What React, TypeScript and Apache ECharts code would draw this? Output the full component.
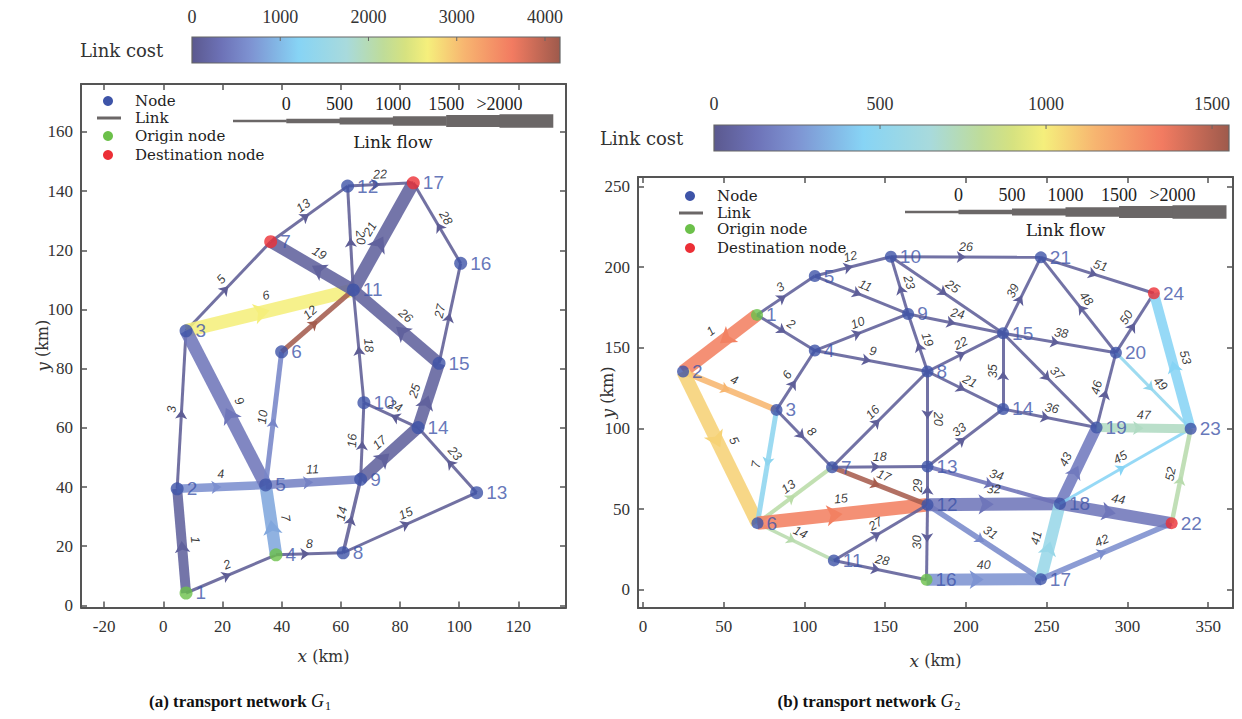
import React, { useEffect, useRef } from 'react';
import * as echarts from 'echarts';

// ---------------- Network G1 ----------------
const g1NodeIds = [1, 2, 3, 4, 5, 6, 7, 8, 9, 10, 11, 12, 13, 14, 15, 16, 17];
const g1NodeX = [7.7, 4.7, 7.7, 38.1, 34.6, 40.0, 36.3, 60.8, 66.7, 67.8, 64.2, 62.3, 105.9, 86.1, 93.2, 100.5, 84.5];
const g1NodeY = [4.2, 39.4, 92.8, 17.1, 40.7, 85.7, 122.9, 17.8, 42.6, 68.5, 106.6, 141.7, 38.1, 60.1, 81.8, 115.6, 142.8];
const g1Origins = [1, 4];
const g1Destinations = [7, 17];
const g1LinkIds = [1, 2, 3, 4, 5, 6, 7, 8, 9, 10, 11, 12, 13, 14, 15, 16, 17, 18, 19, 20, 21, 22, 23, 24, 25, 26, 27, 28];
const g1LinkFrom = [1, 1, 2, 2, 3, 3, 4, 4, 5, 5, 5, 6, 7, 8, 8, 9, 9, 10, 11, 11, 11, 12, 13, 14, 14, 15, 15, 16];
const g1LinkTo = [2, 4, 3, 5, 7, 11, 5, 8, 3, 6, 9, 11, 12, 9, 13, 10, 14, 11, 7, 12, 17, 17, 14, 10, 15, 11, 16, 17];
const g1LinkFlow = [1500, 100, 100, 1200, 100, 2200, 2000, 100, 2100, 500, 1200, 500, 100, 200, 100, 100, 1900, 100, 1900, 100, 2100, 100, 100, 100, 1900, 1900, 100, 100];
const g1LinkCost = [120, 50, 50, 625, 50, 2670, 830, 50, 375, 540, 500, 4130, 50, 50, 50, 50, 120, 50, 120, 50, 120, 50, 50, 50, 120, 120, 50, 50];
const g1CostMax = 4170;
const g1CostTicks = [0, 1000, 2000, 3000, 4000];

// ---------------- Network G2 ----------------
const g2NodeIds = [1, 2, 3, 4, 5, 6, 7, 8, 9, 10, 11, 12, 13, 14, 15, 16, 17, 18, 19, 20, 21, 22, 23, 24];
const g2NodeX = [70.6, 24.8, 82.7, 106.4, 106.4, 70.9, 117.1, 176.2, 164.2, 153.5, 118.2, 176.2, 176.2, 223.0, 223.0, 175.6, 246.4, 258.2, 280.9, 292.9, 246.4, 327.4, 339.2, 316.4];
const g2NodeY = [170.4, 135.3, 111.5, 148.3, 194.5, 41.3, 76.0, 135.3, 171.0, 206.5, 18.2, 52.7, 76.4, 112.1, 159.0, 6.2, 6.6, 53.3, 100.6, 147.0, 206.1, 41.3, 99.8, 183.8];
const g2Origins = [1, 16];
const g2Destinations = [24, 22];
const g2LinkIds = [1, 2, 3, 4, 5, 6, 7, 8, 9, 10, 11, 12, 13, 14, 15, 16, 17, 18, 19, 20, 21, 22, 23, 24, 25, 26, 27, 28, 29, 30, 31, 32, 33, 34, 35, 36, 37, 38, 39, 40, 41, 42, 43, 44, 45, 46, 47, 48, 49, 50, 51, 52, 53];
const g2LinkFrom = [1, 1, 1, 2, 2, 3, 3, 3, 4, 4, 5, 5, 6, 6, 6, 7, 7, 7, 8, 8, 8, 8, 9, 9, 10, 10, 11, 11, 12, 12, 12, 12, 13, 13, 14, 14, 15, 15, 15, 16, 17, 17, 18, 18, 18, 19, 19, 20, 20, 20, 21, 22, 23];
const g2LinkTo = [2, 4, 5, 3, 6, 4, 6, 7, 8, 9, 9, 10, 7, 11, 12, 8, 12, 13, 9, 13, 14, 15, 10, 15, 15, 21, 12, 16, 13, 16, 17, 18, 14, 18, 15, 19, 19, 20, 21, 17, 18, 22, 19, 22, 23, 20, 23, 21, 23, 24, 24, 23, 24];
const g2LinkFlow = [2100, 100, 100, 700, 2200, 100, 500, 100, 100, 100, 100, 100, 300, 200, 2200, 100, 500, 100, 100, 100, 100, 100, 100, 100, 100, 100, 100, 100, 100, 100, 600, 2100, 100, 300, 100, 100, 100, 100, 100, 1900, 1900, 600, 1700, 1900, 100, 100, 1300, 100, 100, 100, 100, 400, 1500];
const g2LinkCost = [1330, 30, 30, 1145, 1070, 30, 495, 30, 30, 30, 30, 30, 775, 760, 1330, 30, 1530, 30, 30, 30, 30, 30, 30, 30, 30, 30, 30, 30, 30, 30, 215, 140, 30, 125, 30, 30, 30, 30, 30, 250, 555, 230, 155, 140, 450, 30, 710, 30, 510, 30, 30, 760, 450];
const g2CostMax = 1551;
const g2CostTicks = [0, 500, 1000, 1500];

// ---------------- Link flow legend ----------------
const flowTicks = [0, 500, 1000, 1500, 2000];
const flowTickLabels = ['0', '500', '1000', '1500', '>2000'];

// ---------------- styling helpers ----------------
const SERIF = "'Liberation Serif', serif";
const WSERIF = "'DejaVu Serif', serif";
const SANS = "'Liberation Sans', Arial, sans-serif";
const NODE_COLOR = '#3e54a8';
const ORIGIN_COLOR = '#6cc04a';
const DEST_COLOR = '#ec2f36';
const AXIS_COLOR = '#555555';

const cmapStops: [number, string][] = [
  [0, '#5b598f'], [0.08, '#6d72b7'], [0.16, '#7e93d2'], [0.29, '#87d4f5'], [0.42, '#a8dadc'],
  [0.52, '#bfdc99'], [0.58, '#d6e280'], [0.64, '#f5ef7c'], [0.74, '#f7b570'], [0.87, '#f27b61'], [1, '#9e5a4c'],
];

function hexToRgb(h: string) {
  const n = parseInt(h.slice(1), 16);
  return [(n >> 16) & 255, (n >> 8) & 255, n & 255];
}
function costColor(cost: number, max: number) {
  const t = Math.max(0, Math.min(1, cost / max));
  for (let i = 1; i < cmapStops.length; i++) {
    if (t <= cmapStops[i][0]) {
      const [t0, c0] = cmapStops[i - 1];
      const [t1, c1] = cmapStops[i];
      const f = (t - t0) / (t1 - t0);
      const a = hexToRgb(c0), b = hexToRgb(c1);
      const c = a.map((v, k) => Math.round(v + (b[k] - v) * f));
      return `rgb(${c[0]},${c[1]},${c[2]})`;
    }
  }
  return cmapStops[cmapStops.length - 1][1];
}
function flowWidth(f: number) {
  return 2.5 + Math.min(f, 2200) / 200;
}

function buildLinks(ids: number[], from: number[], to: number[], flow: number[], cost: number[], nx: number[], ny: number[], costMax: number) {
  const full: any[] = [];
  const arrows: any[] = [];
  ids.forEach((id, i) => {
    const a = [nx[from[i] - 1], ny[from[i] - 1]];
    const b = [nx[to[i] - 1], ny[to[i] - 1]];
    const mid = [(a[0] + b[0]) / 2, (a[1] + b[1]) / 2];
    const color = costColor(cost[i], costMax);
    const w = flowWidth(flow[i]);
    full.push({ name: String(id), coords: [a, b], lineStyle: { color, width: w, opacity: 0.88 }, label: { distance: w / 2 + 2 } });
    const s = Math.max(7, w * 0.9);
    arrows.push({ coords: [a, mid], lineStyle: { color, width: 0, opacity: 1 }, symbol: ['none', 'arrow'], symbolSize: [s, s * 1.3] });
  });
  return { full, arrows };
}

function buildNodes(ids: number[], nx: number[], ny: number[], origins: number[], dests: number[]) {
  return ids.map((id, i) => ({
    name: String(id),
    value: [nx[i], ny[i]],
    itemStyle: { color: origins.includes(id) ? ORIGIN_COLOR : dests.includes(id) ? DEST_COLOR : NODE_COLOR },
  }));
}

const axisNameStyle = {
  fontFamily: WSERIF, fontSize: 16, color: '#333',
  rich: { i: { fontFamily: WSERIF, fontSize: 17, fontStyle: 'italic', color: '#333' } },
};

function xAxes(gridIndex: number, min: number, max: number, step: number, nameGap: number) {
  const common = {
    type: 'value', gridIndex, min, max, minInterval: step, maxInterval: step, splitNumber: 10,
    axisLine: { show: true, onZero: false, lineStyle: { color: AXIS_COLOR, width: 2 } },
    axisTick: { show: true, inside: true, length: 6, lineStyle: { color: AXIS_COLOR, width: 1.5 } },
    splitLine: { show: false },
  };
  return [
    { ...common, position: 'bottom',
      axisLabel: { show: true, showMinLabel: false, showMaxLabel: false, fontFamily: SERIF, fontSize: 17, color: '#333', margin: 10 },
      name: '{i|x} (km)', nameLocation: 'middle', nameGap, nameTextStyle: axisNameStyle },
    { ...common, position: 'top', axisLabel: { show: false } },
  ];
}
function yAxes(gridIndex: number, min: number, max: number, step: number, nameGap: number) {
  const common = {
    type: 'value', gridIndex, min, max, minInterval: step, maxInterval: step, splitNumber: 10,
    axisLine: { show: true, onZero: false, lineStyle: { color: AXIS_COLOR, width: 2 } },
    axisTick: { show: true, inside: true, length: 6, lineStyle: { color: AXIS_COLOR, width: 1.5 } },
    splitLine: { show: false },
  };
  return [
    { ...common, position: 'left',
      axisLabel: { show: true, showMinLabel: false, showMaxLabel: false, fontFamily: SERIF, fontSize: 17, color: '#333', margin: 8 },
      name: '{i|y} (km)', nameLocation: 'middle', nameGap, nameRotate: 90, nameMoveOverlap: false, nameTextStyle: axisNameStyle },
    { ...common, position: 'right', axisLabel: { show: false } },
  ];
}

function txt(x: number, y: number, text: string, opts: any = {}) {
  return {
    type: 'text', x, y, silent: true, z: 20,
    style: { text, fontFamily: WSERIF, fontSize: 15, fill: '#222', textAlign: 'left', textVerticalAlign: 'middle', ...opts },
  };
}

function nodeLegend(dotX: number, textX: number, rows: number[]) {
  const [yNode, yLink, yOrig, yDest] = rows;
  return [
    { type: 'circle', shape: { cx: dotX, cy: yNode, r: 5 }, style: { fill: NODE_COLOR }, z: 20 },
    { type: 'line', shape: { x1: dotX - 11, y1: yLink, x2: dotX + 13, y2: yLink }, style: { stroke: '#6b6767', lineWidth: 3 }, z: 20 },
    { type: 'circle', shape: { cx: dotX, cy: yOrig, r: 5 }, style: { fill: ORIGIN_COLOR }, z: 20 },
    { type: 'circle', shape: { cx: dotX, cy: yDest, r: 5 }, style: { fill: DEST_COLOR }, z: 20 },
    txt(textX, yNode, 'Node'),
    txt(textX, yLink, 'Link'),
    txt(textX, yOrig, 'Origin node'),
    txt(textX, yDest, 'Destination node'),
  ];
}

function flowLegend(x0: number, step: number, yBar: number, yLabel: number, yTitle: number) {
  const els: any[] = [];
  const widths = [flowWidth(0), ...flowTicks.map((f) => flowWidth(f + 400))];
  widths.forEach((w, k) => {
    els.push({ type: 'rect', shape: { x: x0 + k * step, y: yBar - w / 2, width: step + 0.5, height: w }, style: { fill: '#6b6767' }, z: 20 });
  });
  flowTickLabels.forEach((lab, k) => {
    els.push(txt(x0 + (k + 1) * step, yLabel, lab, { textAlign: 'center', fontFamily: SERIF, fontSize: 18 }));
  });
  els.push(txt(x0 + 3 * step, yTitle, 'Link flow', { textAlign: 'center', fontSize: 17 }));
  return els;
}

function colorBar(x: number, y: number, w: number, h: number, max: number, ticks: number[], labelY: number, titleX: number) {
  const els: any[] = [];
  els.push({
    type: 'rect', shape: { x, y, width: w, height: h }, z: 20,
    style: {
      fill: { type: 'linear', x: 0, y: 0, x2: 1, y2: 0, colorStops: cmapStops.map(([o, c]) => ({ offset: o, color: c })) },
      stroke: '#666', lineWidth: 1.2,
    },
  });
  ticks.forEach((v) => {
    const px = x + (v / max) * w;
    if (v > 0) els.push({ type: 'line', shape: { x1: px, y1: y, x2: px, y2: y + 4 }, style: { stroke: '#666', lineWidth: 1 }, z: 21 });
    els.push(txt(px, labelY, String(v), { textAlign: 'center', fontFamily: SERIF, fontSize: 18, fill: '#333' }));
  });
  els.push(txt(titleX, y + h / 2, 'Link cost', { fontSize: 18, fill: '#333' }));
  return els;
}

function caption(cx: number, cy: number, letter: string, sub: string) {
  return {
    type: 'text', x: cx, y: cy, z: 20, silent: true,
    style: {
      text: `{b|(${letter}) transport network }{g|G}{s|${sub}}`,
      textAlign: 'center', textVerticalAlign: 'middle',
      rich: {
        b: { fontFamily: SERIF, fontSize: 17, fontWeight: 'bold', fill: '#111' },
        g: { fontFamily: SERIF, fontSize: 18, fontStyle: 'italic', fill: '#111' },
        s: { fontFamily: SERIF, fontSize: 12, fill: '#111', padding: [9, 0, 0, 1] },
      },
    },
  };
}

const L1 = buildLinks(g1LinkIds, g1LinkFrom, g1LinkTo, g1LinkFlow, g1LinkCost, g1NodeX, g1NodeY, g1CostMax);
const L2 = buildLinks(g2LinkIds, g2LinkFrom, g2LinkTo, g2LinkFlow, g2LinkCost, g2NodeX, g2NodeY, g2CostMax);

const linkLabel = {
  show: true, position: 'middle', formatter: '{b}', fontFamily: SANS, fontStyle: 'italic', fontSize: 12.5, color: '#222',
};

function linkSeries(data: any[], axisIdx: number) {
  return {
    type: 'lines', coordinateSystem: 'cartesian2d', xAxisIndex: axisIdx, yAxisIndex: axisIdx,
    data, symbol: ['none', 'none'], label: linkLabel, silent: true, z: 2, emphasis: { disabled: true },
  };
}
function arrowSeries(data: any[], axisIdx: number) {
  return {
    type: 'lines', coordinateSystem: 'cartesian2d', xAxisIndex: axisIdx, yAxisIndex: axisIdx,
    data, symbol: ['none', 'arrow'], silent: true, z: 3, emphasis: { disabled: true },
  };
}
function nodeSeries(data: any[], axisIdx: number, size: number) {
  return {
    type: 'scatter', xAxisIndex: axisIdx, yAxisIndex: axisIdx, data, symbolSize: size, silent: true, z: 4,
    emphasis: { disabled: true },
    label: { show: true, position: 'right', distance: 3, formatter: '{b}', fontFamily: SANS, fontSize: 19, color: NODE_COLOR },
  };
}

export default function App() {
  const ref = useRef<HTMLDivElement>(null);
  useEffect(() => {
    const chart = echarts.init(ref.current!, null, { renderer: 'svg' });
    const option: any = {
      animation: false,
      backgroundColor: '#ffffff',
      grid: [
        { left: 81, top: 84, width: 485, height: 523.5 },
        { left: 638, top: 177, width: 595, height: 431 },
      ],
      xAxis: [...xAxes(0, -27.8, 136.1, 20, 40), ...xAxes(1, -3.1, 365.4, 50, 44)],
      yAxis: [...yAxes(0, -0.7, 176.2, 20, 30), ...yAxes(1, -11.3, 255.9, 50, 22)],
      series: [
        linkSeries(L1.full, 0),
        arrowSeries(L1.arrows, 0),
        nodeSeries(buildNodes(g1NodeIds, g1NodeX, g1NodeY, g1Origins, g1Destinations), 0, 13),
        linkSeries(L2.full, 2),
        arrowSeries(L2.arrows, 2),
        nodeSeries(buildNodes(g2NodeIds, g2NodeX, g2NodeY, g2Origins, g2Destinations), 2, 12),
      ],
      graphic: [
        ...colorBar(192, 37, 368, 26, g1CostMax, g1CostTicks, 17, 80),
        ...colorBar(714, 125, 515, 26, g2CostMax, g2CostTicks, 104, 600),
        ...nodeLegend(108, 135, [101, 118, 136, 155]),
        ...nodeLegend(690, 717, [196, 213, 229, 248]),
        ...flowLegend(233, 53.3, 121, 104, 142),
        ...flowLegend(905, 53.5, 212, 195, 230),
        caption(240, 701, 'a', '1'),
        caption(869, 701, 'b', '2'),
      ],
    };
    chart.setOption(option);
    return () => chart.dispose();
  }, []);
  return <div ref={ref} style={{ position: 'absolute', left: 0, top: 0, width: 1242, height: 719 }} />;
}
